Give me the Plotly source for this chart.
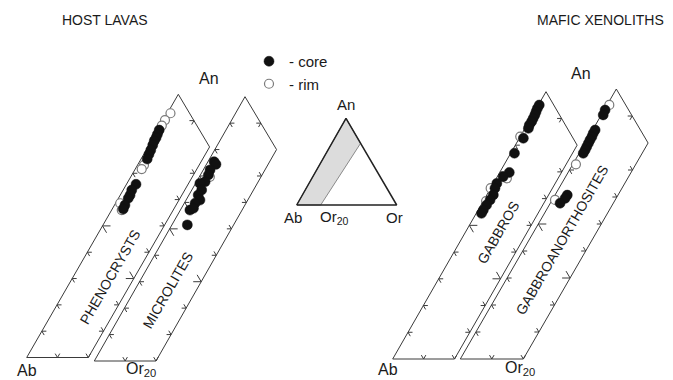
import plotly.graph_objects as go

# ---------------- data (mol %, An and Or; Ab = 100 - An - Or) ----------------
phen_core_an = [86.4, 84.8, 83.5, 82.3, 80.7, 78.8, 77.2, 75.4, 65.8, 63.6, 61.7, 60.5, 57.9, 56.4]
phen_core_or = [0.5, 0.7, 0.9, 0.9, 1.2, 1.5, 1.7, 2.0, 3.1, 2.8, 3.2, 3.2, 3.4, 3.6]
phen_rim_an = [92.8, 90.2, 88.1, 73.1, 71.6, 58.6, 56.0]
phen_rim_or = [1.0, 0.5, 0.5, 2.1, 2.1, 1.5, 3.3]

micro_core_an = [75.4, 74.4, 72.3, 70.4, 67.8, 67.2, 64.7, 62.8, 60.9, 59.7, 57.1, 57.8, 51.5]
micro_core_or = [2.0, 3.1, 2.2, 2.6, 2.8, 1.4, 3.2, 3.0, 4.5, 3.5, 3.1, 3.9, 5.0]
micro_rim_an = [69.7]
micro_rim_or = [3.4]

gab_core_an = [95.0, 93.8, 92.5, 91.3, 90.0, 88.8, 87.5, 86.3, 82.6, 77.0, 69.8, 68.2,
               65.7, 63.9, 61.4, 59.5, 57.6, 55.7, 54.5]
gab_core_or = [0.3, 0.3, 0.5, 0.7, 0.8, 0.9, 0.8, 1.1, 1.3, 1.2, 3.1, 1.9,
               1.1, 1.4, 2.1, 2.0, 1.8, 1.7, 1.7]
gab_rim_an = [83.2, 67.6, 63.9, 59.1]
gab_rim_or = [0.0, 3.4, 0.0, 0.9]

ganor_core_an = [92.2, 90.4, 84.8, 83.6, 82.3, 81.1, 79.9, 78.6, 77.4, 76.2, 60.7, 59.5, 57.7]
ganor_core_or = [0.3, 0.6, 0.8, 0.8, 1.0, 1.0, 1.1, 1.2, 1.3, 1.3, 3.9, 3.8, 3.1]
ganor_rim_an = [94.1, 72.1, 58.9]
ganor_rim_or = [0.7, 1.0, 0.9]

# field outline (An, Or) and tick values
field_an = [0, 0, 80, 100, 0]
field_or = [0, 20, 20, 0, 0]
left_ticks_an = [10, 20, 30, 40, 50, 60, 70, 80, 90]
right_ticks_an = [10, 20, 30, 40, 50, 60, 70]
top_ticks_an = [90]
base_ticks_or = [10, 20]
big_left_an = 50
big_right_an = 30

# inset triangle: shaded Ab-Or20 band (An, Or)
band_an = [0, 0, 71.2, 100, 0]
band_or = [0, 24, 28.8, 0, 0]
tri_an = [0, 100, 0, 0]
tri_or = [0, 0, 100, 0]

# ---------------- geometry (pixel frame of each diagram) ----------------
W, H = 673, 380
PANELS = {
    "phen": dict(ab=(26.7, 357.5), an=(178.3, 94.3), w=61.6),
    "micro": dict(ab=(94.3, 361.0), an=(245.0, 96.7), w=61.7),
    "gab": dict(ab=(392.7, 359.0), an=(546.0, 91.7), w=61.8),
    "ganor": dict(ab=(460.3, 359.0), an=(616.3, 89.0), w=63.0),
}
INSET = dict(ab=(296.7, 205.0), an=(346.0, 118.3), orv=(396.7, 205.0))


def proj(p, an, orr):
    ax, ay = p["ab"]
    nx, ny = p["an"]
    a = an / 100.0
    o = orr / 20.0
    return ax + a * (nx - ax) + o * p["w"], ay + a * (ny - ay)


def proj_list(p, an_list, or_list):
    pts = [proj(p, a, o) for a, o in zip(an_list, or_list)]
    return [q[0] for q in pts], [q[1] for q in pts]


def inset_proj(an_list, or_list):
    ax, ay = INSET["ab"]
    nx, ny = INSET["an"]
    ox, oy = INSET["orv"]
    xs, ys = [], []
    for a, o in zip(an_list, or_list):
        a /= 100.0
        o /= 100.0
        xs.append(ax + a * (nx - ax) + o * (ox - ax))
        ys.append(ay + a * (ny - ay) + o * (oy - ay))
    return xs, ys


def unit(v):
    n = (v[0] ** 2 + v[1] ** 2) ** 0.5
    return (v[0] / n, v[1] / n)


def ticks(p):
    ax, ay = p["ab"]
    nx, ny = p["an"]
    d_or = (1.0, 0.0)                                   # constant An (horizontal)
    d_an = unit((nx - ax, ny - ay))                     # constant Or
    d_ab = unit(((nx - ax) / 100 - p["w"] / 20, (ny - ay) / 100))  # constant Ab (An+, Or-)
    xs, ys = [], []

    def add(pt, dirs, L):
        for d in dirs:
            xs.extend([pt[0], pt[0] + d[0] * L, None])
            ys.extend([pt[1], pt[1] + d[1] * L, None])

    for a in left_ticks_an:
        L = 8 if a == big_left_an else 4.5
        add(proj(p, a, 0), [d_or, (-d_ab[0], -d_ab[1])], L)
    for a in right_ticks_an:
        L = 8 if a == big_right_an else 4.5
        add(proj(p, a, 20), [(-1.0, 0.0), d_ab], L)
    for a in top_ticks_an:
        add(proj(p, a, 100 - a), [(-1.0, 0.0), (-d_an[0], -d_an[1])], 4.5)
    for o in base_ticks_or:
        add(proj(p, 0, o), [d_an, d_ab], 4.5)
    return xs, ys


fig = go.Figure()
LINE = "#3a3a3a"

# diagram frames and ticks
for key, p in PANELS.items():
    fx, fy = proj_list(p, field_an, field_or)
    fig.add_trace(go.Scatter(x=fx, y=fy, mode="lines", line=dict(color=LINE, width=1),
                             hoverinfo="skip", showlegend=False))
    tx, ty = ticks(p)
    fig.add_trace(go.Scatter(x=tx, y=ty, mode="lines", line=dict(color=LINE, width=1),
                             hoverinfo="skip", showlegend=False))

# inset triangle
bx, by = inset_proj(band_an, band_or)
fig.add_trace(go.Scatter(x=bx, y=by, mode="lines", fill="toself", fillcolor="#dcdcdc",
                         line=dict(color="#8a8a8a", width=1), hoverinfo="skip", showlegend=False))
tx, ty = inset_proj(tri_an, tri_or)
fig.add_trace(go.Scatter(x=tx, y=ty, mode="lines", line=dict(color="#222222", width=1.5),
                         hoverinfo="skip", showlegend=False))

# data points
series = [
    ("phen", phen_rim_an, phen_rim_or, phen_core_an, phen_core_or),
    ("micro", micro_rim_an, micro_rim_or, micro_core_an, micro_core_or),
    ("gab", gab_rim_an, gab_rim_or, gab_core_an, gab_core_or),
    ("ganor", ganor_rim_an, ganor_rim_or, ganor_core_an, ganor_core_or),
]
for i, (key, ra, ro, ca, co) in enumerate(series):
    p = PANELS[key]
    rx, ry = proj_list(p, ra, ro)
    fig.add_trace(go.Scatter(x=rx, y=ry, mode="markers", name="- rim", legendgroup="rim",
                             legendrank=2, showlegend=(i == 0),
                             marker=dict(symbol="circle", size=9, color="white",
                                         line=dict(color="#7a7a7a", width=1.2))))
    cx, cy = proj_list(p, ca, co)
    fig.add_trace(go.Scatter(x=cx, y=cy, mode="markers", name="- core", legendgroup="core",
                             legendrank=1, showlegend=(i == 0),
                             marker=dict(symbol="circle", size=10, color="#111111",
                                         line=dict(color="#111111", width=0.5))))

FONT = "Liberation Sans, Arial, sans-serif"
TXT = "#1a1a1a"


def ann(x, y, text, size, angle=0):
    return dict(x=x, y=y, xref="x", yref="y", text=text, showarrow=False, textangle=angle,
                font=dict(family=FONT, size=size, color=TXT), xanchor="center", yanchor="middle")


annotations = [
    ann(105, 20, "HOST LAVAS", 14),
    ann(600, 20, "MAFIC XENOLITHS", 14),
    ann(209, 78, "An", 16),
    ann(581, 73, "An", 16),
    ann(27, 370, "Ab", 16),
    ann(141, 369, "Or<sub>20</sub>", 16),
    ann(388, 369, "Ab", 16),
    ann(520, 368, "Or<sub>20</sub>", 16),
    ann(346, 104, "An", 15),
    ann(293, 217, "Ab", 15),
    ann(334, 217, "Or<sub>20</sub>", 15),
    ann(394, 217, "Or", 15),
    ann(110, 277, "PHENOCRYSTS", 14, -60),
    ann(168, 290, "MICROLITES", 14, -60),
    ann(498, 233, "GABBROS", 14, -60),
    ann(562, 240, "GABBROANORTHOSITES", 14, -60),
]

fig.update_layout(
    width=W, height=H, margin=dict(l=0, r=0, t=0, b=0),
    paper_bgcolor="white", plot_bgcolor="white",
    xaxis=dict(range=[0, W], visible=False, fixedrange=True),
    yaxis=dict(range=[H, 0], visible=False, fixedrange=True),
    annotations=annotations,
    showlegend=True,
    legend=dict(x=249 / W, y=1 - 45 / H, xanchor="left", yanchor="top",
                bgcolor="rgba(0,0,0,0)", itemwidth=30, tracegroupgap=0,
                font=dict(family=FONT, size=15, color=TXT)),
)

fig.write_html("out.html")
